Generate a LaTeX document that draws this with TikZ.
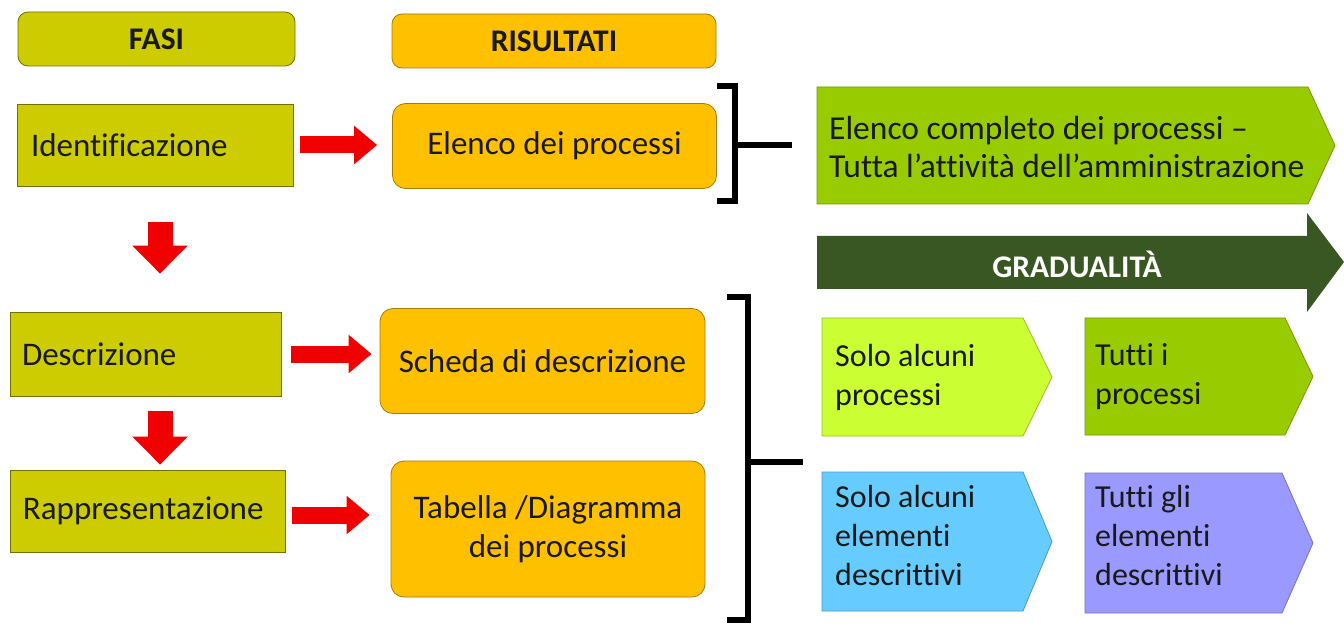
\documentclass[tikz,border=0pt]{standalone}
\usepackage{fontspec}
\setmainfont[Ligatures={TeX,NoCommon}]{Carlito}
\usetikzlibrary{arrows.meta,calc}
\definecolor{cFasi}{RGB}{204,204,0}
\definecolor{cRis}{RGB}{255,192,0}
\definecolor{cGreen}{RGB}{153,204,0}
\definecolor{cLime}{RGB}{204,255,51}
\definecolor{cBlue}{RGB}{102,204,255}
\definecolor{cPurple}{RGB}{153,153,255}
\definecolor{cDark}{RGB}{56,87,35}
\definecolor{cRed}{RGB}{240,0,0}
\definecolor{cText}{RGB}{25,25,25}
\newcommand\mychev[6]{%
  \filldraw[fill=#6, draw=#6!75!black, line width=0.8pt]
    (#1,#2) -- (#3,#2) -- (#4,{(#2+#5)/2}) -- (#3,#5) -- (#1,#5) -- cycle;}
\begin{document}
\begin{tikzpicture}[x=1pt,y=-1pt,
  txt/.style={font=\fontsize{33}{39}\selectfont, text=cText},
  ttl/.style={font=\fontsize{31.5}{36}\selectfont\bfseries, text=cText},
  fasebox/.style={txt, draw=cFasi!55!black, fill=cFasi, line width=0.8pt,
     inner xsep=14pt, inner ysep=0pt, align=left},
  risbox/.style={txt, draw=cRis!65!black, fill=cRis, line width=0.8pt,
     rounded corners=13pt, inner sep=0pt, align=center},
  redarr/.style={draw=cRed, line width=17pt, -{Triangle[length=23pt,width=37pt]}},
  redarrD/.style={draw=cRed, line width=25pt, -{Triangle[length=28pt,width=54pt]}},
  brk/.style={draw=black, line width=6pt},
  chtext/.style={font=\fontsize{33.5}{38}\selectfont, text=cText, anchor=west, align=left, inner sep=0pt},
  chtextS/.style={font=\fontsize{32}{39}\selectfont, text=cText, anchor=west, align=left, inner sep=0pt}
]
\useasboundingbox (0,0) rectangle (1344,628);
\fill[white] (0,0) rectangle (1344,628);

% header boxes
\node[ttl, draw=cFasi!55!black, fill=cFasi, line width=0.8pt, rounded corners=10pt,
      minimum width=277pt, minimum height=54pt] (fasi) at (156.5,39) {FASI};
\node[ttl, draw=cRis!65!black, fill=cRis, line width=0.8pt, rounded corners=10pt,
      minimum width=324pt, minimum height=54pt] (ris) at (554,41) {RISULTATI};

% phases
\node[fasebox, minimum height=82pt, text width=248pt] (ident) at (155,145) {Identificazione};
\node[fasebox, minimum height=84pt, text width=247pt, inner xsep=12pt] (desc) at (145.5,354) {Descrizione};
\node[fasebox, minimum height=82pt, text width=249pt, inner xsep=13pt] (rapp) at (147.5,511) {Rappresentazione};

% results
\node[risbox, minimum width=324pt, minimum height=85pt] (elenco) at (554.5,146) {Elenco dei processi};
\node[risbox, minimum width=325pt, minimum height=105pt] (scheda) at (542.5,361) {Scheda di descrizione};
\node[risbox, minimum width=314pt, minimum height=136pt] (tab) at (548,529) {Tabella /Diagramma\\dei processi};

% red arrows
\draw[redarr, shorten <=7pt, shorten >=15pt] (ident.east) -- (ident.east -| elenco.west);
\draw[redarr, shorten <=10pt, shorten >=8pt] (desc.east) -- (desc.east -| scheda.west);
\draw[redarr, shorten <=7pt, shorten >=21pt] ([yshift=-4pt]rapp.east) -- ([yshift=-4pt]rapp.east -| tab.west);
\coordinate (dx) at (160,0);
\draw[redarrD, shorten <=36pt, shorten >=38pt] (ident.south -| dx) -- (desc.north -| dx);
\draw[redarrD, shorten <=15pt, shorten >=5pt] (desc.south -| dx) -- (rapp.north -| dx);

% brackets
\draw[brk] (717,86) -- (735,86) -- (735,201) -- (717,201);
\coordinate (b1) at (735,145);
\coordinate (s1) at (792,145);
\draw[brk] (b1) -- (s1);
\draw[brk] (727,297) -- (748,297) -- (748,620) -- (727,620);
\coordinate (b2) at (748,462);
\coordinate (s2) at (803,462);
\draw[brk] (b2) -- (s2);

% right side chevrons
\mychev{817}{87}{1308}{1335}{204}{cGreen}
\node[chtext] (t1) at (829,147) {Elenco completo dei processi –\\Tutta l’attività dell’amministrazione};

\fill[cDark] (817,236) -- (1307,236) -- (1307,213) -- (1344,262) -- (1307,312) -- (1307,289) -- (817,289) -- cycle;
\node[font=\fontsize{31.5}{36}\selectfont\bfseries, text=white] (grad) at (1077,264) {GRADUALITÀ};

\mychev{822}{318}{1023}{1052}{436}{cLime}
\node[chtextS] (t2) at (835,377) {Solo alcuni\\processi};
\mychev{1085}{318}{1285}{1313}{435}{cGreen}
\node[chtextS] (t3) at (1095,377) {Tutti i\\processi};
\mychev{822}{472}{1023}{1052}{611}{cBlue}
\node[chtextS] (t4) at (835,536) {Solo alcuni\\elementi\\descrittivi};
\mychev{1085}{473}{1282}{1313}{613}{cPurple}
\node[chtextS] (t5) at (1095,536) {Tutti gli\\elementi\\descrittivi};
\end{tikzpicture}
\end{document}
